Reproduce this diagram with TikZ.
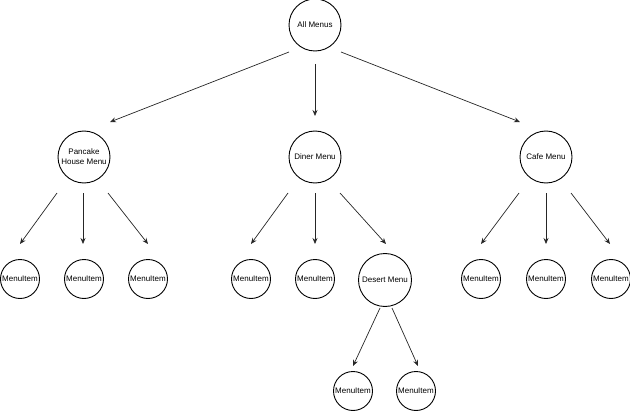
\documentclass[tikz,border=0pt]{standalone}
\usepackage{fontspec}
\setmainfont{Liberation Sans}
\usetikzlibrary{arrows.meta}
\begin{document}
\begin{tikzpicture}[x=1pt,y=-1pt,
  menu/.style={draw=black,line width=0.9pt,circle,inner sep=0pt,align=center,font=\fontsize{8}{10}\selectfont},
  big/.style={menu,minimum size=52pt},
  item/.style={menu,minimum size=39pt},
  arr/.style={draw=black!85,line width=0.7pt,-{Stealth[length=6pt,width=5pt,inset=2pt]}}]
\useasboundingbox (0,0) rectangle (630,412);
% nodes
\node[big] (all) at (315,25) {All Menus};
\node[big] (pan) at (84,157) {Pancake\\House Menu};
\node[big] (din) at (315,157) {Diner Menu};
\node[big] (caf) at (546,157) {Cafe Menu};
\node[item] (p1) at (20,279) {MenuItem};
\node[item] (p2) at (84,279) {MenuItem};
\node[item] (p3) at (148,279) {MenuItem};
\node[item] (d1) at (251,279) {MenuItem};
\node[item] (d2) at (315,279) {MenuItem};
\node[menu,minimum size=53pt] (des) at (385,280) {Desert Menu};
\node[item] (c1) at (481,279) {MenuItem};
\node[item] (c2) at (546,279) {MenuItem};
\node[item] (c3) at (611,279) {MenuItem};
\node[item] (e1) at (353,391) {MenuItem};
\node[item] (e2) at (416,391) {MenuItem};
% arrow end points
\coordinate (a1s) at (289,52);  \coordinate (a1e) at (110,122);
\coordinate (a2s) at (315,64);  \coordinate (a2e) at (315,116);
\coordinate (a3s) at (341,52);  \coordinate (a3e) at (520,122);
\coordinate (p1s) at (57,193);  \coordinate (p1e) at (20,244);
\coordinate (p2s) at (83,193);  \coordinate (p2e) at (83,244);
\coordinate (p3s) at (108,193); \coordinate (p3e) at (148,244);
\coordinate (d1s) at (288,193); \coordinate (d1e) at (251,244);
\coordinate (d2s) at (315,193); \coordinate (d2e) at (315,244);
\coordinate (d3s) at (340,193); \coordinate (d3e) at (386,244);
\coordinate (c1s) at (519,193); \coordinate (c1e) at (481,244);
\coordinate (c2s) at (546,193); \coordinate (c2e) at (546,244);
\coordinate (c3s) at (571,193); \coordinate (c3e) at (610,244);
\coordinate (e1s) at (380,308); \coordinate (e1e) at (353,366);
\coordinate (e2s) at (392,308); \coordinate (e2e) at (418,366);
% arrows
\foreach \a in {a1,a2,a3,p1,p2,p3,d1,d2,d3,c1,c2,c3,e1,e2}
  \draw[arr] (\a s) -- (\a e);
\end{tikzpicture}
\end{document}
